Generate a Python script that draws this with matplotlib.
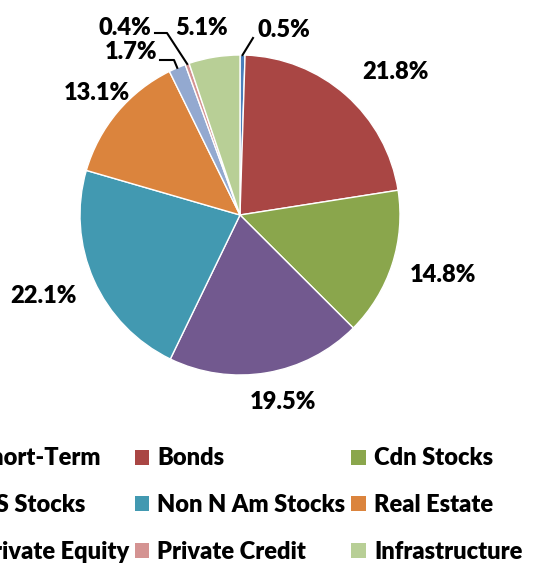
import numpy as np
import matplotlib
matplotlib.use("Agg")
import matplotlib.pyplot as plt
from matplotlib.patches import Patch

categories = ["Short-Term", "Bonds", "Cdn Stocks", "US Stocks", "Non N Am Stocks",
              "Real Estate", "Private Equity", "Private Credit", "Infrastructure"]
values = [0.5, 21.8, 14.8, 19.5, 22.1, 13.1, 1.7, 0.4, 5.1]
labels = ["0.5%", "21.8%", "14.8%", "19.5%", "22.1%", "13.1%", "1.7%", "0.4%", "5.1%"]
colors = ["#4A7EBB", "#A94644", "#8AA64C", "#72598F", "#4299B1",
          "#DB843D", "#93A9D0", "#D49392", "#B8CF96"]

W, H = 537, 566
fig = plt.figure(figsize=(W / 100, H / 100), dpi=100)
ax = fig.add_axes([0, 0, 1, 1])

FONT = "Lato"
WEIGHT = "heavy"
cx, cy, R = 240, H - 215, 160
wedges, _ = ax.pie(values, colors=colors, startangle=90, counterclock=False,
                   center=(cx, cy), radius=R,
                   wedgeprops=dict(edgecolor="white", linewidth=1.0), frame=True)
ax.set_xlim(0, W)
ax.set_ylim(0, H)
ax.set_aspect("equal")
ax.axis("off")

# label placement (pixel offsets from top-left)
label_pos = {0: (284, 30), 1: (395, 72), 2: (443, 275), 3: (283, 402), 4: (43, 296),
             5: (97, 93), 6: (131, 52), 7: (125, 28), 8: (202, 28)}
for i, lab in enumerate(labels):
    x, y = label_pos[i]
    ax.text(x, H - y, lab, ha="center", va="center", fontsize=17,
            fontweight=WEIGHT, family=FONT, color="#000000")

# leader lines for small slices
def edge_point(i):
    w = wedges[i]
    ang = np.deg2rad((w.theta1 + w.theta2) / 2)
    return cx + R * np.cos(ang), cy + R * np.sin(ang)

ex, ey = edge_point(0)
ax.plot([ex, 253], [ey, H - 38], color="black", lw=1.5)
ex, ey = edge_point(6)
ax.plot([160, 174, ex], [H - 60, H - 60, ey], color="black", lw=1.5)
ex, ey = edge_point(7)
ax.plot([155, 167, ex], [H - 33, H - 33, ey], color="black", lw=1.5)

# legend in row-major order (matplotlib fills columns first)
ncol = 3
n = len(categories)
order = [r * ncol + c for c in range(ncol) for r in range(n // ncol)]
handles = [Patch(facecolor=colors[i], edgecolor="none") for i in order]
leg_labels = [categories[i] for i in order]
fig.legend(handles, leg_labels, ncol=ncol, loc="upper left",
           bbox_to_anchor=(-54 / W, 1 - 438 / H), frameon=False,
           prop=dict(family=FONT, weight=WEIGHT, size=17),
           handlelength=0.6, handleheight=0.6, handletextpad=0.35,
           columnspacing=0.25, labelspacing=1.05, borderaxespad=0)

fig.savefig("out.png", dpi=100)
